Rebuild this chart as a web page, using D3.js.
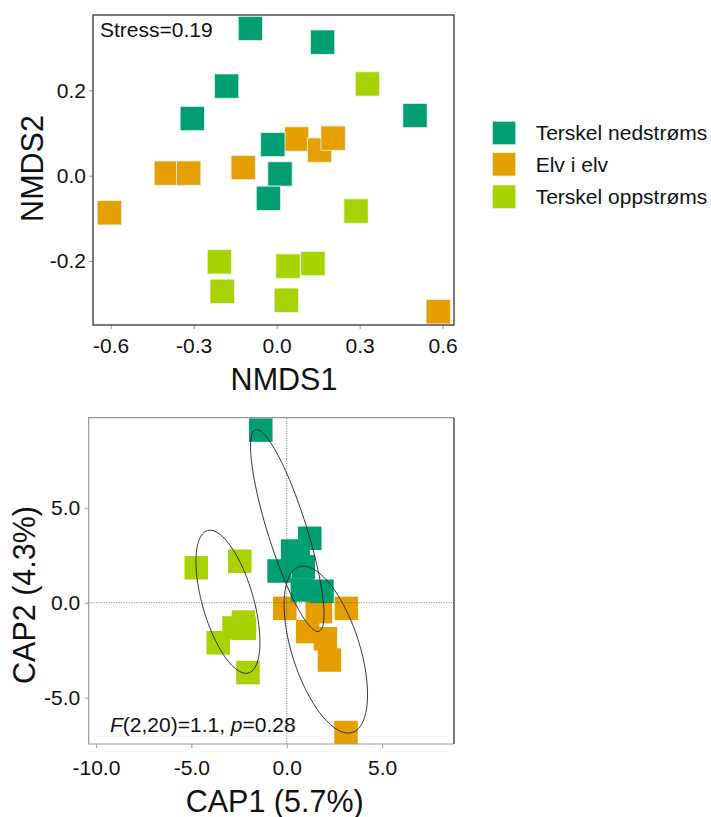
<!DOCTYPE html>
<html>
<head>
<meta charset="utf-8">
<script src="https://cdn.jsdelivr.net/npm/d3@7"></script>
<style>
  body { margin: 0; background: #fff; }
  text { font-family: "Liberation Sans", Arial, sans-serif; fill: #111; }
</style>
</head>
<body>
<script>
var groups = ["Terskel nedstrøms", "Elv i elv", "Terskel oppstrøms"];
var colors = ["#009E73", "#E69F00", "#A8D300"];

// NMDS scores
var nmdsNed = [[-0.095, 0.345], [0.166, 0.313], [-0.181, 0.210], [-0.305, 0.134],
               [0.500, 0.141], [-0.014, 0.073], [0.012, 0.004], [-0.030, -0.053]];
var nmdsElv = [[-0.605, -0.087], [-0.399, 0.006], [-0.318, 0.006], [-0.121, 0.019],
               [0.072, 0.086], [0.155, 0.060], [0.204, 0.088], [0.584, -0.319]];
var nmdsOpp = [[0.328, 0.215], [0.287, -0.083], [-0.207, -0.202], [-0.197, -0.271],
               [0.041, -0.212], [0.131, -0.206], [0.035, -0.292]];

// CAP scores
var capNed = [[-1.36, 9.09], [1.21, 3.39], [0.31, 2.72], [-0.40, 1.67],
              [0.87, 1.89], [1.85, 0.60], [0.82, 0.67], [0.60, 2.20]];
var capElv = [[-0.10, -0.30], [3.13, -0.30], [1.60, -0.35], [1.77, -0.47],
              [1.10, -1.52], [2.03, -1.90], [2.24, -3.02], [3.11, -6.84]];
var capOpp = [[-4.74, 1.84], [-2.46, 2.18], [-2.27, -1.02], [-2.76, -1.33],
              [-2.21, -1.35], [-3.59, -2.11], [-2.03, -3.68]];

// ellipses: centre x, centre y, semi-axes, angle (deg)
var capEllipses = [
  {g: 0, cx: 0.03, cy: 3.80, a: 5.56, b: 1.02, angle: -72.6},
  {g: 1, cx: 2.05, cy: -2.47, a: 4.58, b: 1.77, angle: -72.3},
  {g: 2, cx: -3.08, cy: 0.05, a: 3.90, b: 1.34, angle: -74.0}
];

var nmdsXTicks = [-0.6, -0.3, 0.0, 0.3, 0.6],
    nmdsYTicks = [-0.2, 0.0, 0.2],
    capXTicks = [-10, -5, 0, 5],
    capYTicks = [-5, 0, 5];

var width = 711,
    height = 817;

var svg = d3.select("body").append("svg")
    .attr("width", width)
    .attr("height", height);

var fmt = function(d){ return d.toFixed(1); };

function panel(id, x, y, size, sets, xTicks, yTicks){
  var g = svg.append("g");

  g.append("clipPath").attr("id", id)
    .append("rect")
    .attr("x", x.range()[0]).attr("y", y.range()[1])
    .attr("width", x.range()[1] - x.range()[0])
    .attr("height", y.range()[0] - y.range()[1]);

  var plot = g.append("g").attr("clip-path", "url(#" + id + ")");

  // orange first, then light green, then dark green on top
  [1, 2, 0].forEach(function(k){
    plot.selectAll(null)
      .data(sets[k])
      .enter().append("rect")
      .attr("x", function(d){ return x(d[0]) - size / 2; })
      .attr("y", function(d){ return y(d[1]) - size / 2; })
      .attr("width", size)
      .attr("height", size)
      .attr("fill", colors[k])
      .attr("stroke", id == "clipTop" ? "#e8f5ee" : "none")
      .attr("stroke-width", 0.8);
  });

  var xAxis = g.append("g")
      .attr("transform", "translate(0," + y.range()[0] + ")")
      .call(d3.axisBottom(x).tickValues(xTicks).tickFormat(fmt).tickSize(4).tickPadding(id == "clipTop" ? 9 : 12));
  var yAxis = g.append("g")
      .attr("transform", "translate(" + x.range()[0] + ",0)")
      .call(d3.axisLeft(y).tickValues(yTicks).tickFormat(fmt).tickSize(4).tickPadding(id == "clipTop" ? 3 : 4.5));

  [xAxis, yAxis].forEach(function(ax){
    ax.select(".domain").remove();
    ax.selectAll("line").attr("stroke", "#999");
    ax.selectAll("text").attr("font-size", "21px").attr("fill", "#111");
  });

  return {g: g, plot: plot};
}

// NMDS panel
var xTop = d3.scaleLinear().domain([-0.664, 0.641]).range([93, 454]),
    yTop = d3.scaleLinear().domain([-0.35, 0.3766]).range([325, 15]);

var nmds = panel("clipTop", xTop, yTop, 24.3, [nmdsNed, nmdsElv, nmdsOpp], nmdsXTicks, nmdsYTicks);

nmds.g.append("rect")
  .attr("x", 93).attr("y", 15)
  .attr("width", 454 - 93).attr("height", 325 - 15)
  .attr("fill", "none").attr("stroke", "#222").attr("stroke-width", 1.2);

nmds.g.append("text")
  .attr("x", 100).attr("y", 36.7)
  .attr("font-size", "21px")
  .text("Stress=0.19");

nmds.g.append("text")
  .attr("x", 284).attr("y", 390)
  .attr("text-anchor", "middle")
  .attr("font-size", "30.5px")
  .text("NMDS1");

nmds.g.append("text")
  .attr("transform", "translate(43,168.5) rotate(-90)")
  .attr("text-anchor", "middle")
  .attr("font-size", "30.5px")
  .text("NMDS2");

// CAP panel
var xCap = d3.scaleLinear().domain([-10.38, 8.77]).range([88.7, 454]),
    yCap = d3.scaleLinear().domain([-7.44, 9.74]).range([744, 417.7]);

var cap = panel("clipCap", xCap, yCap, 23.5, [capNed, capElv, capOpp], capXTicks, capYTicks);

// reference lines through the origin
cap.plot.append("line")
  .attr("x1", xCap(0)).attr("x2", xCap(0))
  .attr("y1", yCap.range()[0]).attr("y2", yCap.range()[1])
  .attr("stroke", "#555").attr("stroke-width", 0.8).attr("stroke-dasharray", "1,1.5");
cap.plot.append("line")
  .attr("x1", xCap.range()[0]).attr("x2", xCap.range()[1])
  .attr("y1", yCap(0)).attr("y2", yCap(0))
  .attr("stroke", "#555").attr("stroke-width", 0.8).attr("stroke-dasharray", "1,1.5");

var line = d3.line()
  .x(function(p){ return xCap(p[0]); })
  .y(function(p){ return yCap(p[1]); });

cap.plot.selectAll(".ell")
  .data(capEllipses)
  .enter().append("path")
  .attr("class", "ell")
  .attr("fill", "none")
  .attr("stroke", "#222")
  .attr("stroke-width", 0.9)
  .attr("d", function(e){
    var r = e.angle * Math.PI / 180, pts = [];
    for (var i = 0; i <= 120; i++) {
      var t = i / 120 * 2 * Math.PI,
          u = e.a * Math.cos(t), v = e.b * Math.sin(t);
      pts.push([e.cx + u * Math.cos(r) - v * Math.sin(r),
                e.cy + u * Math.sin(r) + v * Math.cos(r)]);
    }
    return line(pts);
  });

// frame: grey left/top/bottom, dark right edge
cap.g.append("path")
  .attr("d", "M454,417.7H88.7V744H454")
  .attr("fill", "none").attr("stroke", "#999").attr("stroke-width", 1.2);
cap.g.append("line")
  .attr("x1", 454).attr("x2", 454).attr("y1", 417.7).attr("y2", 744)
  .attr("stroke", "#222").attr("stroke-width", 1.2);

var stat = cap.g.append("text")
  .attr("x", 110).attr("y", 731.7)
  .attr("font-size", "21px");
stat.append("tspan").attr("font-style", "italic").text("F");
stat.append("tspan").text("(2,20)=1.1, ");
stat.append("tspan").attr("font-style", "italic").text("p");
stat.append("tspan").text("=0.28");

cap.g.append("text")
  .attr("x", 274.7).attr("y", 811.7)
  .attr("text-anchor", "middle")
  .attr("font-size", "30.5px")
  .text("CAP1 (5.7%)");

cap.g.append("text")
  .attr("transform", "translate(35,595) rotate(-90)")
  .attr("text-anchor", "middle")
  .attr("font-size", "30.5px")
  .text("CAP2 (4.3%)");

// legend
var legend = svg.append("g")
  .selectAll("g")
  .data(groups)
  .enter().append("g")
  .attr("transform", function(d, i){ return "translate(492.3," + [133, 164.3, 196.7][i] + ")"; });

legend.append("rect")
  .attr("x", 0).attr("y", -11.75)
  .attr("width", 23.5).attr("height", 23.5)
  .attr("fill", function(d, i){ return colors[i]; })
  .attr("stroke", "#e8f5ee").attr("stroke-width", 0.8);

legend.append("text")
  .attr("x", 43.4).attr("dy", ".35em")
  .attr("font-size", "21px")
  .text(function(d){ return d; });
</script>
</body>
</html>
